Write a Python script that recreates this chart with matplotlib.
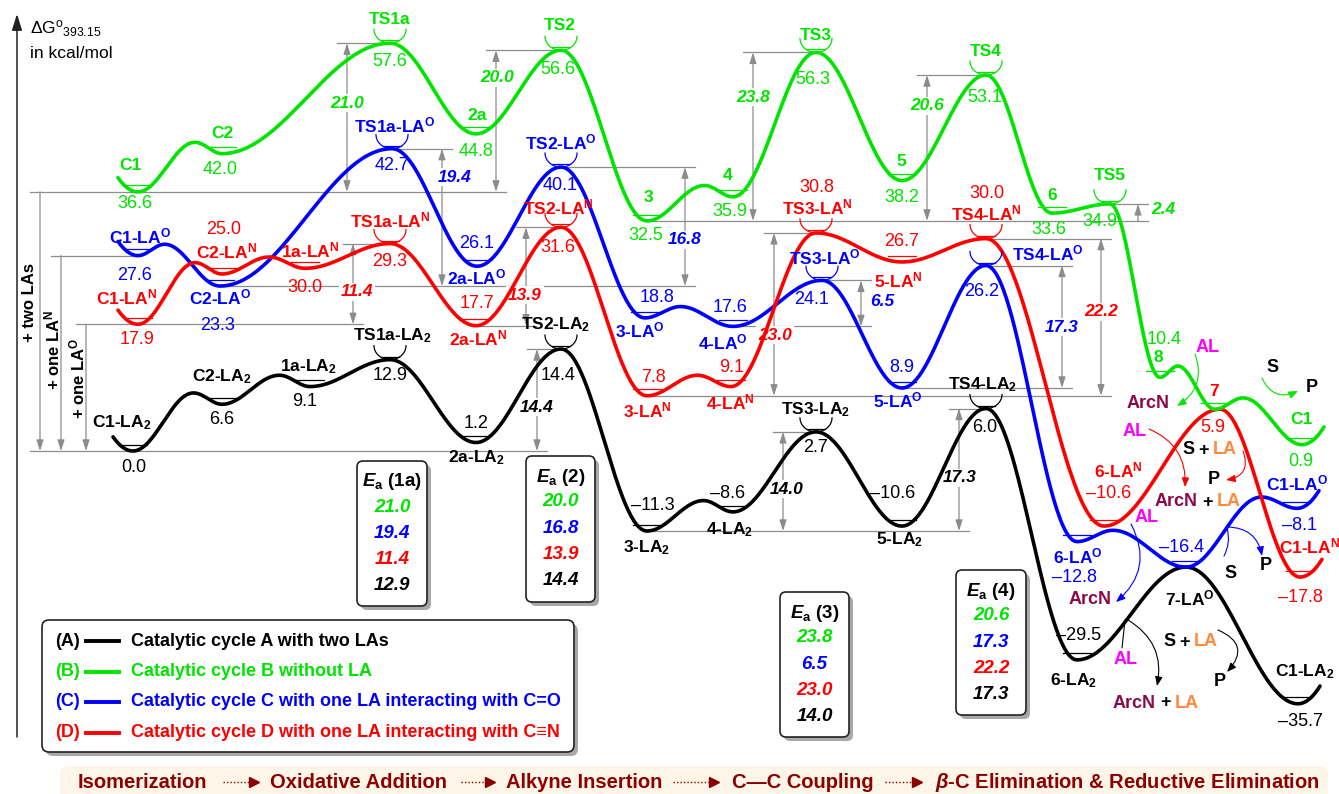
import matplotlib.pyplot as plt
from matplotlib.patches import FancyBboxPatch, FancyArrowPatch
import numpy as np

plt.rcParams['font.family'] = ['Liberation Sans', 'DejaVu Sans']
plt.rcParams['mathtext.fontset'] = 'custom'
plt.rcParams['mathtext.rm'] = 'Liberation Sans'
plt.rcParams['mathtext.bf'] = 'Liberation Sans:bold'
plt.rcParams['mathtext.it'] = 'Liberation Sans:italic:bold'

GREEN = '#00e400'
BLUE = '#0000ff'
RED = '#ff0000'
BLACK = '#000000'
GRAY = '#8c8c8c'
MAGENTA = '#ff00ff'
ORANGE = '#ff8a3d'
PURPLE = '#8b0a4a'
DARKRED = '#8b0000'

# ---------------- data (free energies in kcal/mol) ----------------
green_names = ['C1', 'C2', 'TS1a', '2a', 'TS2', '3', '4', 'TS3', '5', 'TS4', '6', 'TS5', '8', '7', 'C1']
green_E = [36.6, 42.0, 57.6, 44.8, 56.6, 32.5, 35.9, 56.3, 38.2, 53.1, 33.6, 34.9, 10.4, 5.9, 0.9]
green_kind = 'mmtmtmmtmtmtmmm'

LAO = '-LA$^{\\mathbf{O}}$'
LAN = '-LA$^{\\mathbf{N}}$'
LA2 = '-LA$_{\\mathbf{2}}$'
blue_names = [s + LAO for s in ['C1', 'C2', 'TS1a', '2a', 'TS2', '3', '4', 'TS3', '5', 'TS4', '6', '7', 'C1']]
blue_E = [27.6, 23.3, 42.7, 26.1, 40.1, 18.8, 17.6, 24.1, 8.9, 26.2, -12.8, -16.4, -8.1]
blue_kind = 'mmtmtmmtmtmmm'

red_names = [s + LAN for s in ['C1', 'C2', '1a', 'TS1a', '2a', 'TS2', '3', '4', 'TS3', '5', 'TS4', '6']] + ['7', 'C1' + LAN]
red_E = [17.9, 25.0, 25.8, 29.3, 17.7, 31.6, 7.8, 9.1, 30.8, 26.7, 30.0, -10.6, 5.9, -17.8]
red_E_label = [17.9, 25.0, 30.0, 29.3, 17.7, 31.6, 7.8, 9.1, 30.8, 26.7, 30.0, -10.6, 5.9, -17.8]
red_kind = 'mmmtmtmmtmtmxm'

black_names = [s + LA2 for s in ['C1', 'C2', '1a', 'TS1a', '2a', 'TS2', '3', '4', 'TS3', '5', 'TS4', '6']] + ['7' + LAO, 'C1' + LA2]
black_E = [0.0, 6.6, 9.1, 12.9, 1.2, 14.4, -11.3, -8.6, 2.7, -10.6, 6.0, -29.5, -16.4, -35.7]
black_kind = 'mmmtmtmmtmtmxm'

ea_steps = ['(1a)', '(2)', '(3)', '(4)']
ea_green = [21.0, 20.0, 23.8, 20.6]
ea_blue = [19.4, 16.8, 6.5, 17.3]
ea_red = [11.4, 13.9, 23.0, 22.2]
ea_black = [12.9, 14.4, 14.0, 17.3]

legend_tags = ['(A)', '(B)', '(C)', '(D)']
legend_texts = ['Catalytic cycle A with two LAs',
                'Catalytic cycle B without LA',
                'Catalytic cycle C with one LA interacting with C=O',
                'Catalytic cycle D with one LA interacting with C\u2261N']
stages = ['Isomerization', 'Oxidative Addition', 'Alkyne Insertion',
          'C\u2014C Coupling', '$\\beta$-C Elimination & Reductive Elimination']

# ---------------- layout (pixels) ----------------
green_x = [138, 222, 390, 476, 561, 647, 733, 816, 902, 986, 1052, 1110, 1160, 1215, 1302]
blue_x = [138, 220, 392, 477, 561, 645, 733, 822, 902, 986, 1077, 1186, 1297]
red_x = [138, 222, 305, 390, 476, 561, 647, 731, 816, 902, 986, 1104, 1220, 1300]
black_x = [133, 222, 310, 390, 476, 561, 647, 733, 816, 902, 986, 1077, 1186, 1298]

green_npos = [(130, 165), (222, 133), (390, 20), (477, 116), (560, 25), (648, 198), (728, 176), (816, 35),
              (901, 162), (986, 51), (1052, 195), (1110, 176), (1158, 358), None, (1301, 420)]
green_vpos = [(135, 203), (220, 170), (390, 61), (476, 152), (558, 70), (646, 236), (730, 211), (813, 80),
              (902, 198), (985, 97), (1049, 229), (1100, 222), (1164, 339), None, (1301, 462)]
blue_npos = [(140, 236), (220, 297), (395, 125), (477, 277), (561, 142), (640, 330), (723, 342), (825, 257),
             (898, 400), (1048, 253), (1078, 556), None, (1297, 483)]
blue_vpos = [(135, 275), (218, 326), (392, 166), (477, 243), (560, 185), (657, 297), (730, 307), (812, 300),
             (902, 367), (982, 292), (1074, 578), (1182, 548), (1300, 525)]
red_npos = [(127, 297), (227, 251), (310, 250), (390, 220), (478, 338), (558, 207), (647, 410), (730, 402),
            (817, 207), (898, 280), (986, 213), (1118, 470), (1214, 391), (1310, 546)]
red_vpos = [(137, 339), (224, 230), (305, 287), (390, 262), (477, 303), (558, 248), (653, 377), (732, 368),
            (817, 187), (902, 242), (987, 193), (1109, 493), (1213, 428), (1300, 598)]
black_npos = [(122, 423), (222, 377), (308, 367), (392, 336), (476, 458), (556, 325), (647, 548), (730, 530),
              (816, 410), (900, 540), (983, 385), (1074, 681), (1190, 598), (1305, 672)]
black_vpos = [(134, 468), (222, 420), (305, 402), (390, 376), (476, 423), (558, 375), (653, 505), (728, 493),
              (816, 447), (893, 493), (985, 427), (1079, 635), None, (1300, 722)]

curves = {
    'k': dict(x=black_x, E=black_E, lab=black_E, kind=black_kind, names=black_names, npos=black_npos, vpos=black_vpos, c=BLACK),
    'b': dict(x=blue_x, E=blue_E, lab=blue_E, kind=blue_kind, names=blue_names, npos=blue_npos, vpos=blue_vpos, c=BLUE),
    'r': dict(x=red_x, E=red_E, lab=red_E_label, kind=red_kind, names=red_names, npos=red_npos, vpos=red_vpos, c=RED),
    'g': dict(x=green_x, E=green_E, lab=green_E, kind=green_kind, names=green_names, npos=green_npos, vpos=green_vpos, c=GREEN),
}

# barrier arrows: (top curve, idx, bottom curve, idx, arrow x, label position)
barriers = [
    ('g', 2, 'g', 0, 347, (347, 103)), ('b', 2, 'b', 1, 442, (455, 177)),
    ('r', 3, 'r', 0, 353, (357, 292)), ('g', 4, 'g', 0, 496, (497, 78)),
    ('r', 5, 'r', 4, 526, (525, 295)), ('k', 5, 'k', 0, 537, (537, 407)),
    ('b', 4, 'b', 1, 685, (685, 240)), ('g', 7, 'g', 5, 753, (753, 97)),
    ('r', 8, 'r', 6, 774, (775, 335)), ('b', 7, 'b', 6, 861, (882, 302)),
    ('k', 8, 'k', 6, 783, (787, 489)), ('g', 9, 'g', 5, 927, (927, 106)),
    ('b', 9, 'b', 8, 1062, (1062, 327)), ('r', 10, 'r', 6, 1101, (1101, 312)),
    ('k', 10, 'k', 6, 959, (960, 478)), ('g', 11, 'g', 5, 1138, (1163, 210)),
]
left_arrows = [('g', 40, '+ two LAs', (30, 303)),
               ('b', 61, '+ one LA$^{\\mathbf{N}}$', (52, 350)),
               ('r', 86, '+ one LA$^{\\mathbf{O}}$', (77, 378))]

W, H = 1339, 794
Y0, S = 451.0, 7.08   # pixel row of 0 kcal/mol, pixels per kcal/mol


def ey(ypx):
    return (Y0 - ypx) / S


fig = plt.figure(figsize=(W / 100, H / 100), dpi=100)
ax = fig.add_axes([0, 0, 1, 1])
ax.set_xlim(0, W)
ax.set_ylim(ey(H), ey(0))
ax.axis('off')


def profile(xs, Es, kinds):
    kx, kE = [xs[0]], [Es[0]]
    for i in range(len(xs) - 1):
        if kinds[i] == 'm' and kinds[i + 1] == 'm':
            f = 0.5 + 0.18 * np.tanh((Es[i + 1] - Es[i]) / 2)
            kx.append(xs[i] + f * (xs[i + 1] - xs[i]))
            kE.append(max(Es[i], Es[i + 1]) + 1.6)
        kx.append(xs[i + 1])
        kE.append(Es[i + 1])
    t = np.linspace(-1, 0, 15)
    px = list(kx[0] + 20 * t)
    pE = list(kE[0] + 2.0 * t ** 2)
    for i in range(len(kx) - 1):
        t = np.linspace(0, 1, 60)[1:]
        px.extend(kx[i] + (kx[i + 1] - kx[i]) * t)
        pE.extend(kE[i] + (kE[i + 1] - kE[i]) * (1 - np.cos(np.pi * t)) / 2)
    t = np.linspace(0, 1, 15)[1:]
    px.extend(kx[-1] + 22 * t)
    pE.extend(kE[-1] + 2.5 * t ** 2)
    return px, pE


def fmt(v):
    return ('\u2013' if v < 0 else '') + f'{abs(v):.1f}'


# reference lines and barrier arrows
levels = {}
for ct, it, cb, ib, xa, _ in barriers:
    levels.setdefault((ct, it), []).append(xa)
    levels.setdefault((cb, ib), []).append(xa)
for c, xa, _, _ in left_arrows:
    levels.setdefault((c, 0), []).append(xa)
    levels.setdefault(('k', 0), []).append(xa)
for (c, i), xs in levels.items():
    p, e = curves[c]['x'][i], curves[c]['E'][i]
    ax.plot([min(p, min(xs) - 10), max(p, max(xs) + 10)], [e, e], color=GRAY, lw=0.9, zorder=1)


def varrow(x, e1, e2, style):
    ax.add_patch(FancyArrowPatch((x, e1), (x, e2), arrowstyle=style + ',head_length=0.5,head_width=0.16',
                                 mutation_scale=13, color=GRAY, lw=0.9, shrinkA=0, shrinkB=0, zorder=1))


for ct, it, cb, ib, xa, (lx, ly) in barriers:
    et, eb = curves[ct]['E'][it], curves[cb]['E'][ib]
    varrow(xa, eb, et, '-|>' if et - eb < 3 else '<|-|>')
    ax.text(lx, ey(ly), f'{et - eb:.1f}', color=curves[ct]['c'], fontsize=12.5, fontweight='bold',
            style='italic', ha='center', va='center', zorder=2,
            bbox=dict(boxstyle='square,pad=0.1', fc='white', ec='none'))

for c, xa, txt, (lx, ly) in left_arrows:
    varrow(xa, curves[c]['E'][0], curves['k']['E'][0], '-|>')
    ax.text(lx, ey(ly), txt, rotation=90, fontsize=12, fontweight='bold', ha='center', va='center')

# energy profiles
for key in ['k', 'b', 'r', 'g']:
    cv = curves[key]
    px, pE = profile(cv['x'], cv['E'], cv['kind'])
    ax.plot(px, pE, color=cv['c'], lw=2.6, zorder=3, solid_capstyle='round')
    for x, e, k in zip(cv['x'], cv['E'], cv['kind']):
        if k == 'm':
            ax.plot([x - 14, x + 14], [e + 0.9, e + 0.9], color=cv['c'], lw=0.9, zorder=4)
        elif k == 't':
            th = np.linspace(np.pi, 2 * np.pi, 40)
            ax.plot(x + 16 * np.cos(th), e + (14 + 14 * np.sin(th)) / S, color=cv['c'], lw=0.9, zorder=4)
            ax.plot([x - 9, x + 9], [e + 3 / S, e + 3 / S], color=cv['c'], lw=0.9, zorder=4)
    for i in range(len(cv['x'])):
        col = BLACK if (key == 'b' and i == 11) else cv['c']
        if cv['npos'][i] is not None and cv['names'][i]:
            nx, ny = cv['npos'][i]
            ncol = RED if (key == 'r' and i == 12) else cv['c']
            ax.text(nx, ey(ny), cv['names'][i], color=ncol, fontsize=12.5, fontweight='bold',
                    ha='center', va='center', zorder=5)
        if cv['vpos'][i] is not None:
            vx, vy = cv['vpos'][i]
            ax.text(vx, ey(vy), fmt(cv['lab'][i]), color=cv['c'], fontsize=13,
                    ha='center', va='center', zorder=5)

# ---------------- overlay in pixel units ----------------
lay = fig.add_axes([0, 0, 1, 1])
lay.set_xlim(0, W)
lay.set_ylim(H, 0)
lay.axis('off')
lay.patch.set_visible(False)

lay.add_patch(FancyArrowPatch((17, 737), (17, 14), arrowstyle='-|>,head_length=0.7,head_width=0.22',
                              mutation_scale=14, color='#222222', lw=1.1, shrinkA=0, shrinkB=0))
lay.text(30, 29, '$\\Delta$G$^{\\mathrm{o}}{}_{393.15}$', fontsize=12.5, ha='left', va='center')
lay.text(30, 53, 'in kcal/mol', fontsize=12.5, ha='left', va='center')


def rbox(x, y, w, h, r=6):
    lay.add_patch(FancyBboxPatch((x + 4, y + 4), w, h, boxstyle=f'round,pad=0,rounding_size={r}',
                                 fc='#a8a8a8', ec='none', zorder=5))
    lay.add_patch(FancyBboxPatch((x, y), w, h, boxstyle=f'round,pad=0,rounding_size={r}',
                                 fc='white', ec='#222222', lw=1.2, zorder=6))


ea_boxes = [(357, 461, 70, 145), (526, 456, 69, 146), (780, 592, 69, 145), (956, 570, 70, 145)]
for j, (bx, by, bw, bh) in enumerate(ea_boxes):
    rbox(bx, by, bw, bh)
    cx = bx + bw / 2
    lay.text(cx, by + 21, '$E_{\\mathbf{a}}$ ' + ea_steps[j], fontsize=13.5, fontweight='bold',
             ha='center', va='center', zorder=7)
    for k, (vals, col) in enumerate([(ea_green, GREEN), (ea_blue, BLUE), (ea_red, RED), (ea_black, BLACK)]):
        lay.text(cx, by + 46 + 26.3 * k, f'{vals[j]:.1f}', color=col, fontsize=13.5, fontweight='bold',
                 style='italic', ha='center', va='center', zorder=7)

rbox(42, 620, 532, 132, r=7)
for k, col in enumerate([BLACK, GREEN, BLUE, RED]):
    yy = 641 + 30.5 * k
    lay.text(67, yy, legend_tags[k], color=col, fontsize=13, fontweight='bold', ha='center', va='center', zorder=7)
    lay.plot([86, 119], [yy, yy], color=col, lw=2.8, zorder=7)
    lay.text(131, yy, legend_texts[k], color=col, fontsize=13, fontweight='bold', ha='left', va='center', zorder=7)

# process bar
lay.add_patch(FancyBboxPatch((60, 766), 1268, 50, boxstyle='round,pad=0,rounding_size=9',
                             fc='#fdf5e8', ec='none', zorder=1))
stage_cx = [142, 359, 584, 803, 1127]
for s, cx in zip(stages, stage_cx):
    lay.text(cx, 782, s, color=DARKRED, fontsize=14.5, fontweight='bold', ha='center', va='center', zorder=2)
for x0, x1 in [(223, 258), (461, 494), (673, 718), (885, 921)]:
    lay.plot([x0, x1 - 6], [782, 782], color=DARKRED, lw=1, ls=(0, (1, 1.5)), zorder=2)
    lay.plot([x1 - 4], [782], marker='>', ms=7, color=DARKRED, zorder=2)


# species leaving / entering
def sp(x, y, s, c, ha='center'):
    lay.text(x, y, s, color=c, fontsize=13, fontweight='bold', ha=ha, va='center', zorder=8)


def multi(x, y, parts):
    t = lay.text(x, y, parts[0][0], color=parts[0][1], fontsize=13, fontweight='bold', ha='left', va='center', zorder=8)
    for s, c in parts[1:]:
        t = lay.annotate(s, xy=(1, 0), xycoords=t, xytext=(3, 0), textcoords='offset points', color=c,
                         fontsize=13, fontweight='bold', ha='left', va='bottom', zorder=8)


def thin(p0, p1, rad, c, head=True):
    st = '-|>,head_length=0.55,head_width=0.22' if head else '-'
    lay.add_patch(FancyArrowPatch(p0, p1, connectionstyle=f'arc3,rad={rad}', arrowstyle=st,
                                  mutation_scale=10, color=c, lw=0.8, shrinkA=0, shrinkB=0, zorder=8))


sp(1208, 348, 'AL', MAGENTA); sp(1148, 404, 'ArcN', PURPLE); sp(1273, 368, 'S', BLACK); sp(1312, 387, 'P', BLACK)
thin((1195, 354), (1177, 406), -0.4, GREEN)
thin((1262, 378), (1298, 391), 0.5, GREEN)

sp(1135, 431, 'AL', MAGENTA); sp(1214, 480, 'P', BLACK)
multi(1182, 450, [('S', BLACK), ('+', BLACK), ('LA', ORANGE)])
multi(1155, 502, [('ArcN', PURPLE), ('+', BLACK), ('LA', ORANGE)])
thin((1149, 429), (1185, 487), -0.35, RED)
thin((1243, 451), (1226, 480), -0.6, RED)

sp(1147, 518, 'AL', MAGENTA); sp(1090, 600, 'ArcN', PURPLE); sp(1231, 573, 'S', BLACK); sp(1266, 566, 'P', BLACK)
thin((1131, 524), (1116, 602), -0.4, BLUE)
thin((1224, 556), (1227, 528), 0.2, BLUE, head=False)
thin((1228, 527), (1262, 556), -0.4, BLUE)

sp(1126, 660, 'AL', MAGENTA); sp(1220, 681, 'P', BLACK)
multi(1163, 642, [('S', BLACK), ('+', BLACK), ('LA', ORANGE)])
multi(1113, 703, [('ArcN', PURPLE), ('+', BLACK), ('LA', ORANGE)])
thin((1122, 648), (1125, 620), 0.0, BLACK, head=False)
thin((1128, 620), (1157, 686), -0.35, BLACK)
thin((1218, 630), (1227, 672), -0.7, BLACK)

fig.savefig('out.png', dpi=100)
